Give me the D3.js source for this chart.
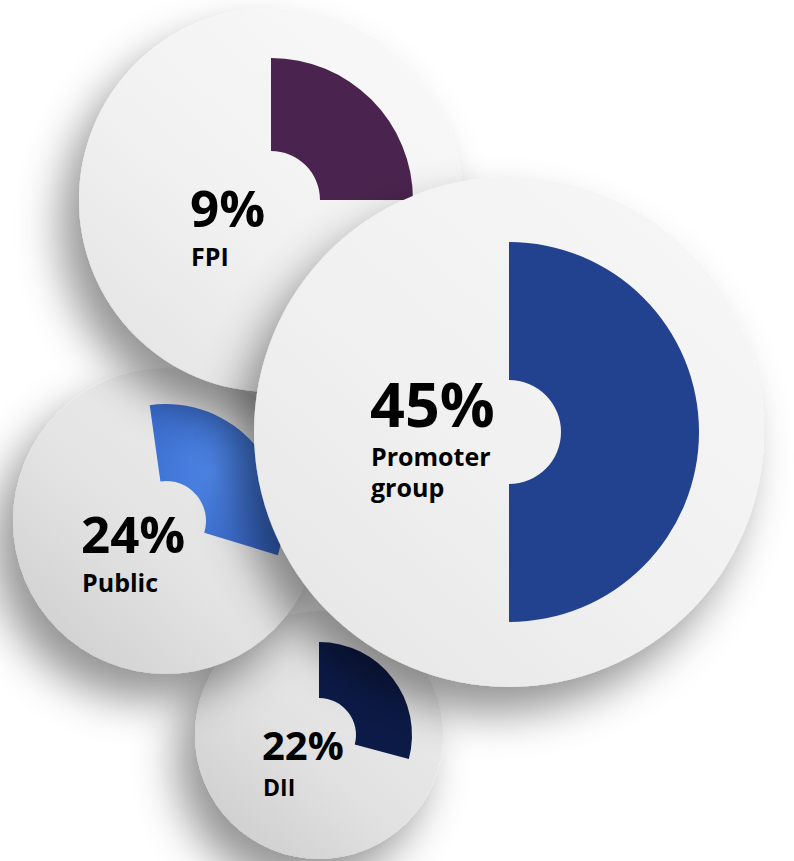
<!DOCTYPE html>
<html lang="en">

<head>
    <meta charset="UTF-8">
    <title>Shareholding pattern</title>
    <script src="https://d3js.org/d3.v7.min.js"></script>
    <style>
        body {
            margin: 0;
            background: #ffffff;
        }

        .pct {
            font-family: "Open Sans", "Noto Sans", sans-serif;
            font-weight: 700;
            fill: #000000;
        }

        .lbl {
            font-family: "Open Sans", "Noto Sans", sans-serif;
            font-weight: 700;
            fill: #000000;
        }
    </style>
</head>

<body>
    <script>
        // data
        const categories = ["DII", "Public", "FPI", "Promoter group"];
        const shares = [22, 24, 9, 45];
        // the drawn segments are decorative: their sweep (degrees) as seen in the image
        const arcStartDeg = [0, -8, 0, 0];
        const arcEndDeg = [105, 107, 90, 180];
        const colors = ["#0c1a47", "#4274d6", "#4a244e", "#22428f"];

        // layout of the discs (drawing order: bottom to top)
        const layout = [
            { cx: 319, cy: 735, r: 124, rin: 37, rout: 93, tx: 262, ty: 760, fs: 40, ls: 23, lines: ["DII"], shade: ["#ececec", "#cdcdcd"] },
            { cx: 166, cy: 521, r: 153, rin: 40, rout: 117, tx: 81, ty: 553, fs: 51, ls: 25, lines: ["Public"], shade: ["#ededed", "#cfcfcf"] },
            { cx: 271, cy: 200, r: 192, rin: 49, rout: 142, tx: 190, ty: 227, fs: 51, ls: 25, lines: ["FPI"], shade: ["#f8f8f8", "#e4e4e4"] },
            { cx: 509, cy: 432, r: 255, rin: 52, rout: 190, tx: 370, ty: 427, fs: 61, ls: 25, lines: ["Promoter", "group"], shade: ["#f6f6f6", "#e6e6e6"] }
        ];

        const width = 794, height = 861;
        const rad = d3.scaleLinear().domain([0, 360]).range([0, 2 * Math.PI]);

        const svg = d3.select("body").append("svg")
            .attr("width", width)
            .attr("height", height);

        const defs = svg.append("defs");

        const shadow = defs.append("filter")
            .attr("id", "shadow")
            .attr("x", "-50%").attr("y", "-50%")
            .attr("width", "200%").attr("height", "200%");
        shadow.append("feDropShadow")
            .attr("dx", -18).attr("dy", 26)
            .attr("stdDeviation", 22)
            .attr("flood-color", "#000")
            .attr("flood-opacity", 0.42);

        layout.forEach((l, i) => {
            const g = defs.append("linearGradient")
                .attr("id", "disc" + i)
                .attr("x1", "0.85").attr("y1", "0.1")
                .attr("x2", "0.1").attr("y2", "0.95");
            g.append("stop").attr("offset", "0%").attr("stop-color", l.shade[0]);
            g.append("stop").attr("offset", "55%").attr("stop-color", d3.interpolateRgb(l.shade[0], l.shade[1])(0.35));
            g.append("stop").attr("offset", "100%").attr("stop-color", l.shade[1]);
        });

        const pubGrad = defs.append("radialGradient")
            .attr("id", "pubArc")
            .attr("cx", "0.45").attr("cy", "0.45").attr("r", "0.7");
        pubGrad.append("stop").attr("offset", "0%").attr("stop-color", "#4d85e6");
        pubGrad.append("stop").attr("offset", "100%").attr("stop-color", "#3565c6");

        const arc = d3.arc();

        const discs = svg.selectAll("g.disc")
            .data(categories)
            .enter().append("g")
            .attr("class", "disc")
            .attr("transform", (d, i) => `translate(${layout[i].cx},${layout[i].cy})`);

        discs.append("circle")
            .attr("r", (d, i) => layout[i].r)
            .attr("fill", (d, i) => `url(#disc${i})`)
            .attr("filter", "url(#shadow)");

        discs.append("path")
            .attr("d", (d, i) => arc({
                innerRadius: layout[i].rin,
                outerRadius: layout[i].rout,
                startAngle: rad(arcStartDeg[i]),
                endAngle: rad(arcEndDeg[i])
            }))
            .attr("fill", (d, i) => i === 1 ? "url(#pubArc)" : colors[i]);

        discs.append("text")
            .attr("class", "pct")
            .attr("x", (d, i) => layout[i].tx - layout[i].cx)
            .attr("y", (d, i) => layout[i].ty - layout[i].cy)
            .style("font-size", (d, i) => layout[i].fs + "px")
            .text((d, i) => shares[i] + "%");

        discs.each(function (d, i) {
            const l = layout[i];
            const t = d3.select(this).append("text")
                .attr("class", "lbl")
                .style("font-size", l.ls + "px");
            l.lines.forEach((line, k) => {
                t.append("tspan")
                    .attr("x", l.tx - l.cx + 1)
                    .attr("y", l.ty - l.cy + l.ls * 1.55 + k * l.ls * 1.25)
                    .text(line);
            });
        });
    </script>
</body>

</html>
